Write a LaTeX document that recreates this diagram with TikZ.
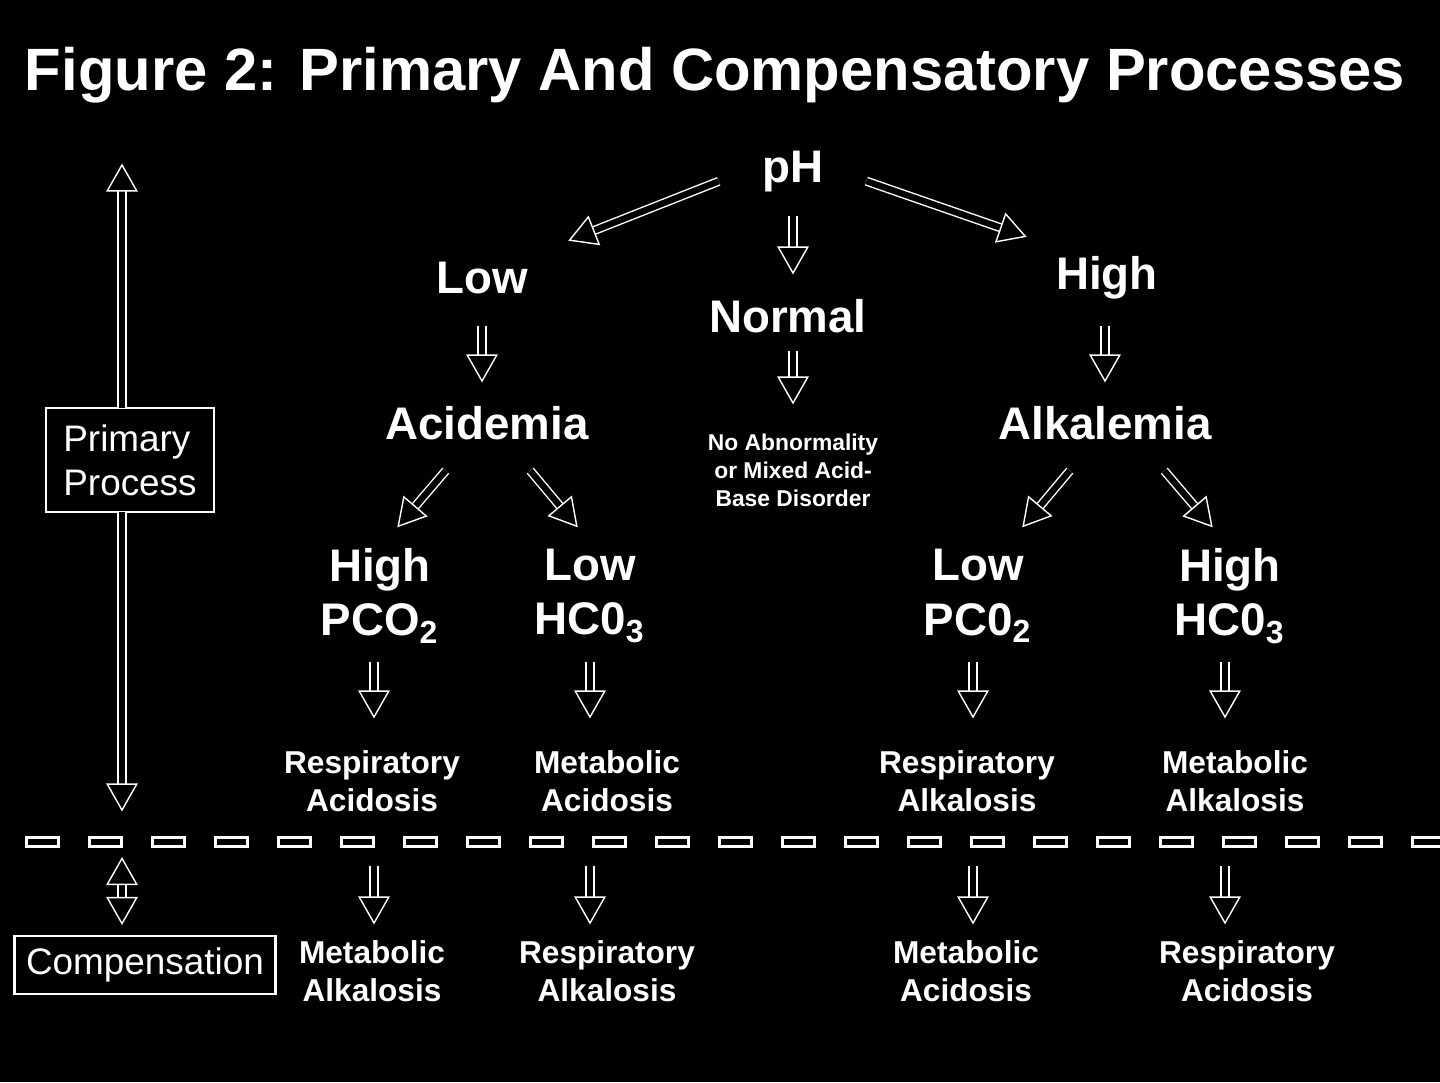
\documentclass[tikz,border=0pt]{standalone}
\usepackage{fontspec}
\setmainfont{Liberation Sans}
\usetikzlibrary{arrows.meta,positioning}
\begin{document}
\begin{tikzpicture}
\tikzstyle{big}=[text=white,font=\bfseries\fontsize{13}{15.5}\selectfont,align=center,inner sep=0pt]
\tikzstyle{mid}=[text=white,font=\bfseries\fontsize{9}{10.8}\selectfont,align=center,inner sep=0pt]
\tikzstyle{edge}=[draw=white,double=black,double distance=1.8pt,-{Triangle[open,length=8pt,width=9pt]},shorten >=1pt,shorten <=1pt]
\tikzstyle{dedge}=[draw=white,double=black,double distance=1.8pt,{Triangle[open,length=8pt,width=9pt]}-{Triangle[open,length=8pt,width=9pt]}]
\tikzstyle{block}=[draw=white,thick,text=white,font=\fontsize{10.5}{12.5}\selectfont,align=left]
\fill[black] (0,0) rectangle (14.4,-10.82);
\useasboundingbox (0,0) rectangle (14.4,-10.82);
\node[text=white,font=\bfseries\fontsize{17}{19}\selectfont] (T) at (7.15,-0.75) {Figure 2: Primary And Compensatory Processes};
\node[big] (pH) at (7.93,-1.72) {pH};
\node[big] (L) at (4.82,-2.78) {Low};
\node[big] (N) at (7.88,-3.16) {Normal};
\node[big] (H) at (11.07,-2.78) {High};
\node[big] (Ac) at (4.87,-4.23) {Acidemia};
\node[big] (Al) at (11.05,-4.23) {Alkalemia};
\node[text=white,font=\bfseries\fontsize{6.5}{8}\selectfont,align=center,inner sep=0pt] (No) at (7.93,-4.70) {No Abnormality\\or Mixed Acid-\\Base Disorder};
\node[big] (HP) at (3.80,-5.96) {High\\PCO\textsubscript{2}};
\node[big] (LH) at (5.90,-5.96) {Low\\HC0\textsubscript{3}};
\node[big] (LP) at (9.78,-5.96) {Low\\PC0\textsubscript{2}};
\node[big] (HH) at (12.30,-5.96) {High\\HC0\textsubscript{3}};
\node[mid] (RAc) at (3.72,-7.81) {Respiratory\\Acidosis};
\node[mid] (MAc) at (6.07,-7.81) {Metabolic\\Acidosis};
\node[mid] (RAl) at (9.67,-7.81) {Respiratory\\Alkalosis};
\node[mid] (MAl) at (12.35,-7.81) {Metabolic\\Alkalosis};
\node[mid] (CMAl) at (3.72,-9.71) {Metabolic\\Alkalosis};
\node[mid] (CRAl) at (6.07,-9.71) {Respiratory\\Alkalosis};
\node[mid] (CMAc) at (9.66,-9.71) {Metabolic\\Acidosis};
\node[mid] (CRAc) at (12.47,-9.71) {Respiratory\\Acidosis};
\node[block,minimum width=1.68cm,minimum height=1.04cm] (PP) at (1.30,-4.60) {Primary\\Process};
\node[block,minimum width=2.42cm,minimum height=0.58cm] (C) at (1.45,-9.65) {Compensation};
\coordinate (top) at (1.22,-1.60);
\coordinate (bot) at (1.22,-8.15);
\coordinate (c1) at (1.22,-8.57);
\coordinate (c2) at (1.22,-9.25);
% arrows
\draw[edge] (7.22,-1.80) -- (5.65,-2.42);
\draw[edge] (8.63,-1.80) -- (10.30,-2.38);
\draw[edge] (7.93,-2.12) -- (7.93,-2.78);
\draw[edge] (4.82,-3.22) -- (4.82,-3.86);
\draw[edge] (7.93,-3.47) -- (7.93,-4.08);
\draw[edge] (11.05,-3.22) -- (11.05,-3.86);
\draw[edge] (4.48,-4.68) -- (3.95,-5.30);
\draw[edge] (5.28,-4.68) -- (5.80,-5.30);
\draw[edge] (10.72,-4.68) -- (10.20,-5.30);
\draw[edge] (11.62,-4.68) -- (12.15,-5.30);
\draw[edge] (3.74,-6.58) -- (3.74,-7.22);
\draw[edge] (5.90,-6.58) -- (5.90,-7.22);
\draw[edge] (9.73,-6.58) -- (9.73,-7.22);
\draw[edge] (12.25,-6.58) -- (12.25,-7.22);
\draw[edge] (3.74,-8.62) -- (3.74,-9.28);
\draw[edge] (5.90,-8.62) -- (5.90,-9.28);
\draw[edge] (9.73,-8.62) -- (9.73,-9.28);
\draw[edge] (12.25,-8.62) -- (12.25,-9.28);
\draw[edge] (PP.north -| top) ++(0,-0.05) -- (top);
\draw[edge] (PP.south -| top) ++(0,0.05) -- (bot);
\draw[dedge] (c1) -- (c2);
% dashed divider
\draw[white,line width=3.5pt,dash pattern=on 0.35cm off 0.28cm] (0.25,-8.42) -- (14.4,-8.42);
\draw[black,line width=1.5pt,dash pattern=on 0.29cm off 0.34cm,dash phase=-0.03cm] (0.25,-8.42) -- (14.4,-8.42);
\end{tikzpicture}
\end{document}
